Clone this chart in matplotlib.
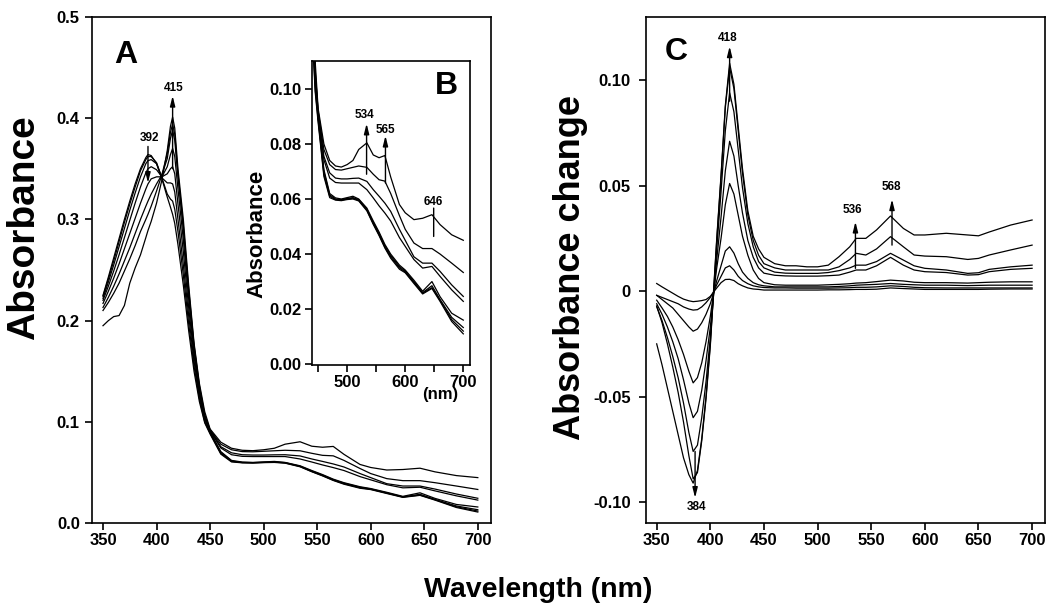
import matplotlib
matplotlib.use('Agg')
import matplotlib.pyplot as plt

# ---- panel A / inset B: absorbance spectra (8 scans) ----
wl_a = [350, 355, 360, 365, 370, 375, 380, 385, 390, 392, 395, 400, 405, 410, 413, 415,
        417, 420, 425, 430, 435, 440, 445, 450, 460, 470, 480, 490, 500, 510, 520, 534,
        545, 555, 565, 575, 590, 600, 615, 630, 646, 660, 680, 700]

abs_0 = [.225, .243, .262, .281, .300, .318, .335, .350, .361, .364, .363, .355, .340, .322, .312, .305,
         .296, .275, .235, .190, .150, .120, .099, .088, .0682, .0605, .0596, .0594, .0598, .060, .0593, .0557,
         .0508, .0467, .0422, .0385, .0345, .0332, .0293, .0255, .0275, .0228, .0155, .011]
abs_1 = [.224, .241, .259, .278, .297, .315, .332, .348, .359, .362, .362, .356, .341, .325, .320, .318,
         .310, .288, .245, .197, .155, .123, .100, .089, .069, .061, .0598, .0596, .060, .0603, .0595, .056,
         .051, .047, .0425, .039, .035, .0335, .0297, .0258, .0278, .0232, .0162, .012]
abs_2 = [.222, .238, .255, .273, .291, .309, .326, .342, .355, .358, .359, .355, .341, .336, .336, .335,
         .327, .300, .255, .205, .160, .126, .102, .090, .070, .0615, .060, .0598, .0602, .0605, .0598, .0563,
         .0515, .0475, .043, .0395, .0355, .0338, .030, .026, .0285, .0235, .017, .0133]
abs_3 = [.220, .234, .249, .265, .282, .299, .316, .332, .346, .350, .352, .349, .342, .345, .350, .352,
         .345, .315, .268, .213, .165, .129, .104, .090, .0707, .062, .0604, .060, .0605, .061, .060, .0567,
         .052, .048, .0435, .040, .036, .0342, .0305, .0265, .030, .0245, .0185, .016]
abs_4 = [.217, .229, .242, .256, .271, .286, .301, .316, .330, .335, .340, .342, .342, .352, .364, .370,
         .362, .330, .280, .222, .170, .132, .105, .091, .0743, .0676, .066, .0658, .0658, .0658, .0658, .0634,
         .0604, .0575, .0549, .052, .046, .0428, .038, .0349, .0355, .0319, .027, .0228]
abs_5 = [.213, .223, .234, .246, .259, .272, .286, .300, .313, .318, .325, .335, .344, .360, .380, .388,
         .378, .342, .290, .228, .174, .134, .106, .092, .0755, .0695, .0676, .0673, .0673, .0675, .0676, .0664,
         .0634, .061, .0585, .0555, .049, .045, .039, .0367, .0367, .0337, .0288, .0246]
abs_6 = [.210, .218, .227, .237, .249, .261, .274, .288, .300, .305, .313, .328, .344, .365, .386, .394,
         .384, .345, .294, .231, .176, .136, .107, .092, .078, .0725, .0707, .0705, .071, .0715, .072, .0715,
         .069, .067, .0665, .062, .054, .049, .044, .042, .042, .040, .0367, .0333]
abs_7 = [.195, .200, .204, .205, .215, .237, .252, .265, .282, .289, .298, .316, .339, .368, .392, .401,
         .390, .350, .300, .235, .178, .138, .110, .093, .080, .074, .072, .0716, .0725, .074, .078, .0804,
         .076, .075, .0758, .068, .058, .055, .0525, .053, .0543, .0507, .047, .045]

# ---- panel C: difference spectra ----
wl_c = [350, 355, 360, 365, 370, 375, 380, 384, 388, 392, 396, 400, 403, 406, 410,
        414, 418, 422, 426, 430, 435, 440, 445, 450, 460, 470, 480, 490, 500, 510,
        520, 530, 536, 545, 555, 568, 580, 590, 600, 620, 640, 650, 660, 680, 700]

diff_0 = [.0036, .002, .0005, -.001, -.0025, -.0038, -.0046, -.005, -.0048, -.0045, -.004, -.0025, -.0005, .0015, .004,
          .0055, .0056, .005, .0035, .0025, .0015, .001, .0008, .0005, .0005, .0005, .0005, .0005, .0005, .0006,
          .0006, .0007, .0008, .0008, .0009, .0015, .0012, .001, .0008, .0008, .0008, .0008, .0009, .001, .001]
diff_1 = [-.002, -.003, -.004, -.005, -.006, -.0075, -.0085, -.009, -.0088, -.0075, -.0055, -.003, -.0005, .003, .007,
          .011, .012, .010, .007, .005, .0035, .0025, .002, .0017, .0015, .0015, .0014, .0014, .0014, .0014,
          .0015, .0016, .0018, .0018, .002, .0025, .0022, .0018, .0016, .0015, .0015, .0015, .0015, .0015, .0015]
diff_2 = [-.002, -.004, -.006, -.008, -.011, -.014, -.017, -.019, -.018, -.015, -.011, -.006, -.001, .005, .012,
          .019, .021, .018, .013, .009, .006, .004, .003, .0025, .002, .002, .002, .002, .002, .002,
          .0022, .0025, .0028, .003, .0032, .0036, .0032, .003, .0028, .0028, .0026, .0027, .0028, .0028, .0028]
diff_3 = [-.0043, -.008, -.012, -.017, -.023, -.030, -.038, -.0435, -.041, -.034, -.024, -.012, -.001, .011, .025,
          .041, .051, .046, .036, .026, .017, .010, .006, .004, .003, .0028, .0028, .0028, .0028, .003,
          .0032, .0035, .0038, .004, .0045, .0052, .0048, .0042, .004, .004, .0038, .004, .0042, .0044, .0044]
diff_4 = [-.006, -.011, -.017, -.024, -.032, -.042, -.053, -.060, -.057, -.047, -.033, -.017, -.002, .015, .035,
          .057, .071, .064, .050, .037, .024, .016, .011, .0085, .0075, .0072, .0071, .0071, .0071, .0073,
          .0076, .009, .010, .010, .012, .016, .0123, .010, .0092, .0088, .0076, .0078, .0092, .0103, .0108]
diff_5 = [-.0074, -.014, -.022, -.031, -.041, -.053, -.067, -.076, -.073, -.060, -.043, -.022, -.002, .020, .047,
          .076, .094, .085, .067, .049, .032, .021, .014, .011, .009, .0085, .0084, .0084, .0084, .0088,
          .0097, .011, .0123, .0123, .014, .0179, .0147, .012, .0108, .010, .0084, .0087, .0103, .0115, .0123]
diff_6 = [-.007, -.015, -.025, -.036, -.048, -.062, -.078, -.089, -.086, -.071, -.051, -.026, -.001, .024, .054,
          .087, .106, .096, .076, .056, .036, .024, .017, .013, .011, .010, .010, .010, .010, .010,
          .0115, .015, .0179, .0171, .020, .0258, .021, .0171, .0166, .0163, .015, .0155, .0171, .0195, .0218]
diff_7 = [-.025, -.035, -.046, -.057, -.068, -.079, -.087, -.091, -.085, -.070, -.050, -.025, 0, .025, .055,
          .088, .108, .098, .078, .058, .038, .026, .020, .016, .013, .012, .012, .0115, .0115, .0123,
          .0163, .021, .025, .025, .029, .0356, .0297, .0266, .0266, .0274, .0266, .0262, .028, .0313, .0337]

spectra = [abs_0, abs_1, abs_2, abs_3, abs_4, abs_5, abs_6, abs_7]
diffs = [diff_0, diff_1, diff_2, diff_3, diff_4, diff_5, diff_6, diff_7]

font = ['Liberation Sans', 'DejaVu Sans']


def style_axes(ax):
    for s in ax.spines.values():
        s.set_linewidth(1.2)
    ax.tick_params(direction='out', length=5, width=1.2, pad=2)
    for lab in ax.get_xticklabels() + ax.get_yticklabels():
        lab.set_fontfamily(font)
        lab.set_fontweight('bold')
        lab.set_fontsize(12)


def marker(ax, x, y0, y1, text, tx, ty, head=True):
    style = '-|>,head_length=0.6,head_width=0.15' if head else '-'
    ax.annotate('', xy=(x, y1), xytext=(x, y0),
                arrowprops=dict(arrowstyle=style, color='k', lw=1.0,
                                shrinkA=0, shrinkB=0, mutation_scale=10))
    ax.text(tx, ty, text, ha='center', va='center', fontsize=8.5,
            fontweight='bold', family=font)


fig = plt.figure(figsize=(10.5, 6.09), dpi=100)

# panel A
axA = fig.add_axes([0.0879, 0.1409, 0.3794, 0.8315])
for y in spectra:
    axA.plot(wl_a, y, color='k', lw=0.9)
axA.set_xlim(340, 712)
axA.set_ylim(0, 0.5)
axA.set_xticks(range(350, 701, 50))
axA.set_yticks([0, 0.1, 0.2, 0.3, 0.4, 0.5])
axA.set_yticklabels(['0.0', '0.1', '0.2', '0.3', '0.4', '0.5'])
style_axes(axA)
axA.tick_params(axis='y', pad=4)
marker(axA, 392, 0.372, 0.336, '392', 393.7, 0.380)
marker(axA, 415, 0.350, 0.422, '415', 415.6, 0.430)

# inset B
axB = fig.add_axes([0.2974, 0.4007, 0.1502, 0.4985])
axB.set_facecolor('white')
for y in spectra:
    axB.plot(wl_a, y, color='k', lw=0.9)
axB.set_xlim(440, 711.5)
axB.set_ylim(-0.0003, 0.110)
axB.set_xticks(range(450, 701, 50))
axB.set_xticklabels(['', '500', '', '600', '', '700'])
axB.set_yticks([0, 0.02, 0.04, 0.06, 0.08, 0.10])
axB.set_yticklabels(['0.00', '0.02', '0.04', '0.06', '0.08', '0.10'])
style_axes(axB)
axB.tick_params(axis='y', pad=3)
marker(axB, 533.5, 0.069, 0.0874, '534', 530.5, 0.0907)
marker(axB, 566, 0.0658, 0.083, '565', 566.7, 0.085)
marker(axB, 649, 0.0567, 0.0464, '646', 648, 0.059, head=False)

# panel C
axC = fig.add_axes([0.6152, 0.1409, 0.38, 0.8315])
for y in diffs:
    axC.plot(wl_c, y, color='k', lw=0.9)
axC.set_xlim(340, 712)
axC.set_ylim(-0.110, 0.130)
axC.set_xticks(range(350, 701, 50))
axC.set_yticks([-0.10, -0.05, 0, 0.05, 0.10])
axC.set_yticklabels(['-0.10', '-0.05', '0', '0.05', '0.10'])
style_axes(axC)
axC.tick_params(axis='y', pad=6)
marker(axC, 418, 0.090, 0.116, '418', 415.9, 0.120)
marker(axC, 385.8, -0.076, -0.098, '384', 387.3, -0.1025)
marker(axC, 535.3, 0.0108, 0.0329, '536', 532, 0.0384)
marker(axC, 569.4, 0.0218, 0.0435, '568', 568.5, 0.0492)

# labels
fig.text(0.12, 0.909, 'A', ha='center', va='center', fontsize=23, fontweight='bold', family=font)
fig.text(0.4248, 0.8588, 'B', ha='center', va='center', fontsize=23, fontweight='bold', family=font)
fig.text(0.6438, 0.9154, 'C', ha='center', va='center', fontsize=23, fontweight='bold', family=font)
fig.text(0.419, 0.3514, '(nm)', ha='center', va='center', fontsize=12, fontweight='bold', family=font)
fig.text(0.2448, 0.6158, 'Absorbance', rotation=90, ha='center', va='center',
         fontsize=16, fontweight='bold', family=font)
fig.text(0.0229, 0.627, 'Absorbance', rotation=90, ha='center', va='center',
         fontsize=28, fontweight='bold', family=font)
fig.text(0.543, 0.56, 'Absorbance change', rotation=90, ha='center', va='center',
         fontsize=26, fontweight='bold', family=font)
fig.text(0.513, 0.0197, 'Wavelength (nm)', ha='center', va='baseline',
         fontsize=20.5, fontweight='bold', family=font)

fig.savefig('out.png', dpi=100)
